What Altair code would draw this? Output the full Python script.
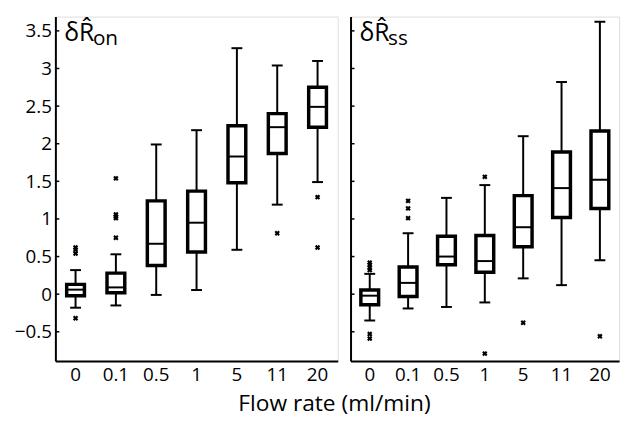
import altair as alt
import pandas as pd

categories = ["0", "0.1", "0.5", "1", "5", "11", "20"]

on_whisker_low = [-0.18, -0.15, -0.01, 0.055, 0.59, 1.19, 1.49]
on_q1 = [-0.02, 0.02, 0.38, 0.56, 1.48, 1.87, 2.22]
on_median = [0.06, 0.09, 0.67, 0.95, 1.83, 2.22, 2.49]
on_q3 = [0.13, 0.28, 1.24, 1.37, 2.24, 2.40, 2.75]
on_whisker_high = [0.32, 0.53, 1.99, 2.18, 3.27, 3.04, 3.10]
on_outlier_cat = ["0", "0", "0", "0", "0.1", "0.1", "0.1", "0.1", "0.1", "11", "20", "20"]
on_outlier_val = [0.62, 0.59, 0.54, -0.32, 1.54, 1.06, 1.03, 1.01, 0.75, 0.81, 1.29, 0.62]

ss_whisker_low = [-0.35, -0.19, -0.17, -0.11, 0.21, 0.12, 0.45]
ss_q1 = [-0.14, -0.03, 0.39, 0.29, 0.63, 1.02, 1.14]
ss_median = [-0.02, 0.15, 0.50, 0.44, 0.89, 1.41, 1.52]
ss_q3 = [0.055, 0.36, 0.77, 0.78, 1.31, 1.89, 2.17]
ss_whisker_high = [0.27, 0.81, 1.28, 1.45, 2.10, 2.82, 3.62]
ss_outlier_cat = ["0", "0", "0", "0", "0", "0", "0.1", "0.1", "0.1", "1", "1", "5", "20"]
ss_outlier_val = [0.42, 0.39, 0.35, 0.32, -0.53, -0.59, 1.24, 1.14, 1.01, 1.56, -0.79, -0.38, -0.56]

y_ticks = [-0.5, 0, 0.5, 1, 1.5, 2, 2.5, 3, 3.5]
y_domain = [-0.89, 3.69]

FONT = "Open Sans"


def panel(low, q1, med, q3, high, out_cat, out_val, main, sub, show_labels, w):
    stats = pd.DataFrame({"cat": categories, "low": low, "q1": q1, "med": med,
                          "q3": q3, "high": high})
    outl = pd.DataFrame({"cat": out_cat, "v": out_val})
    ticks = pd.DataFrame({"v": y_ticks})

    xenc = alt.X("cat:N", sort=categories,
                 scale=alt.Scale(type="band", domain=categories,
                                 paddingInner=0, paddingOuter=0),
                 axis=alt.Axis(title=None, ticks=False, labelAngle=0,
                               labelFontSize=19, labelFont=FONT,
                               labelColor="black", labelPadding=5,
                               domainColor="black", domainWidth=2))
    yscale = alt.Scale(domain=y_domain, nice=False, zero=False)
    yaxis = alt.Axis(title=None, values=y_ticks, ticks=False, grid=False,
                     format="~g",
                     labels=show_labels, labelFontSize=19, labelFont=FONT,
                     labelColor="black", labelPadding=4,
                     domainColor="black", domainWidth=2)

    base = alt.Chart(stats)
    whisk = base.mark_rule(color="black", strokeWidth=2).encode(
        x=xenc, y=alt.Y("low:Q", scale=yscale, axis=yaxis), y2="high:Q")
    cap_lo = base.mark_tick(color="black", size=11, thickness=2,
                            opacity=1).encode(
        x=xenc, y=alt.Y("low:Q", scale=yscale, axis=yaxis))
    cap_hi = base.mark_tick(color="black", size=11, thickness=2,
                            opacity=1).encode(
        x=xenc, y=alt.Y("high:Q", scale=yscale, axis=yaxis))
    box = base.mark_bar(size=18, fill="white", stroke="black",
                        strokeWidth=3.5, opacity=1).encode(
        x=xenc, y=alt.Y("q1:Q", scale=yscale, axis=yaxis), y2="q3:Q")
    median = base.mark_tick(color="black", size=19, thickness=2,
                            opacity=1).encode(
        x=xenc, y=alt.Y("med:Q", scale=yscale, axis=yaxis))
    outs = alt.Chart(outl).mark_point(shape="cross", angle=45, filled=True,
                                      color="black", size=30, opacity=1).encode(
        x=xenc, y=alt.Y("v:Q", scale=yscale, axis=yaxis))
    tk = alt.Chart(ticks).mark_rule(color="black", strokeWidth=1.5).encode(
        x=alt.value(0), x2=alt.value(4),
        y=alt.Y("v:Q", scale=yscale, axis=yaxis))
    lab = alt.Chart(pd.DataFrame({"t": [main]})).mark_text(
        align="left", baseline="alphabetic", fontSize=25, font=FONT,
        color="black").encode(text="t:N", x=alt.value(9), y=alt.value(25))
    lab_sub = alt.Chart(pd.DataFrame({"t": [sub]})).mark_text(
        align="left", baseline="alphabetic", fontSize=21, font=FONT,
        color="black").encode(text="t:N", x=alt.value(38), y=alt.value(29))

    return alt.layer(tk, whisk, cap_lo, cap_hi, box, median, outs, lab,
                     lab_sub).properties(width=w, height=349)


left = panel(on_whisker_low, on_q1, on_median, on_q3, on_whisker_high,
             on_outlier_cat, on_outlier_val, "\u03b4R\u0302", "on", True, 286)
right = panel(ss_whisker_low, ss_q1, ss_median, ss_q3, ss_whisker_high,
              ss_outlier_cat, ss_outlier_val, "\u03b4R\u0302", "ss", False, 272)

chart = alt.hconcat(left, right, spacing=10).properties(
    title=alt.TitleParams("Flow rate (ml/min)", orient="bottom",
                          anchor="middle", fontSize=23, font=FONT,
                          fontWeight="normal", color="black", dx=18, offset=8)
).configure_view(stroke=None).configure(background="white")

chart.save("out.html", embed_options={"renderer": "svg", "actions": False})
